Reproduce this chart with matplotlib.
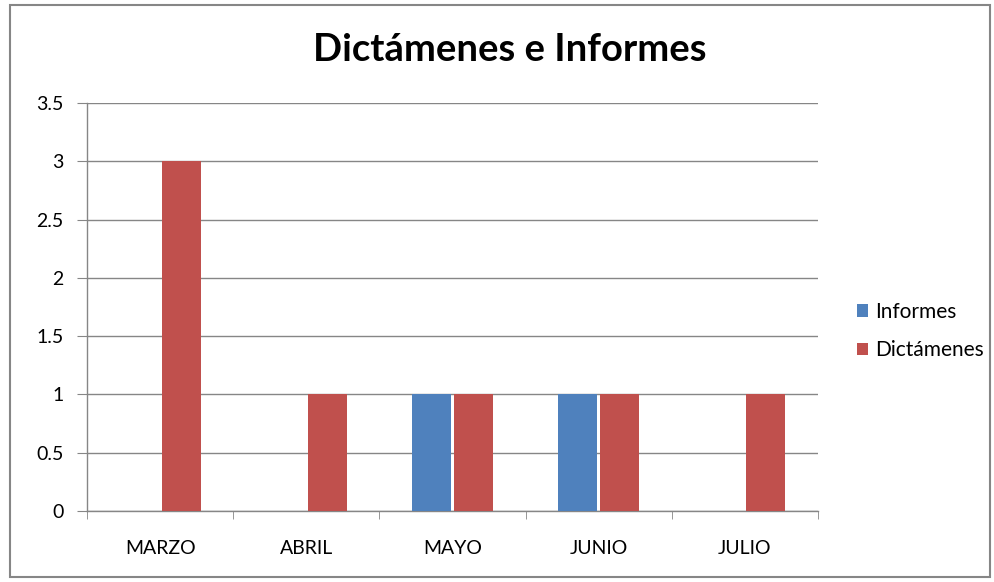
import matplotlib
matplotlib.use("Agg")
import matplotlib.pyplot as plt
import numpy as np
from matplotlib.patches import Rectangle

categories = ["MARZO", "ABRIL", "MAYO", "JUNIO", "JULIO"]
informes = [0, 0, 1, 1, 0]
dictamenes = [3, 1, 1, 1, 1]
series_names = ["Informes", "Dictámenes"]
colors = ["#4F81BD", "#C0504D"]
yticks = [0, 0.5, 1, 1.5, 2, 2.5, 3, 3.5]
ytick_labels = ["0", "0.5", "1", "1.5", "2", "2.5", "3", "3.5"]

plt.rcParams['font.family'] = ['Lato', 'DejaVu Sans']

fig = plt.figure(figsize=(9.94, 5.82), dpi=100)
ax = fig.add_axes([87/994, 71/582, (818-87)/994, (511-103)/582])

x = np.arange(len(categories))
w = 0.267
gap = 0.01
b1 = ax.bar(x - w/2 - gap, informes, width=w, color=colors[0], label=series_names[0], zorder=3)
b2 = ax.bar(x + w/2 + gap, dictamenes, width=w, color=colors[1], label=series_names[1], zorder=3)

ax.set_xlim(-0.5, len(categories) - 0.5)
ax.set_ylim(0, 3.5)
ax.set_yticks(yticks)
ax.set_yticklabels(ytick_labels, fontsize=14)
ax.set_xticks(x)
ax.set_xticklabels(categories, fontsize=14)
ax.set_xticks(np.arange(-0.5, len(categories)), minor=True)
ax.tick_params(axis='x', which='major', length=0, pad=21)
ax.tick_params(axis='x', which='minor', length=6, color="#868686", direction='out')
ax.tick_params(axis='y', length=7, color="#868686", direction='out', pad=10)

ax.yaxis.grid(True, color="#868686", linewidth=1.0, zorder=0)
for s in ["top", "right"]:
    ax.spines[s].set_visible(False)
for s in ["left", "bottom"]:
    ax.spines[s].set_color("#868686")
    ax.spines[s].set_linewidth(1.0)

fig.text(510/994, 1 - 50/582, "Dictámenes e Informes", ha='center', va='center',
         fontsize=27.5, fontweight='bold')

leg = fig.legend(handles=[b1, b2], labels=series_names, loc='center left',
                 bbox_to_anchor=(857/994, 1 - 331/582), frameon=False, fontsize=15,
                 handlelength=0.55, handleheight=0.55, handletextpad=0.3, labelspacing=0.9,
                 borderaxespad=0, borderpad=0)

fig.patches.append(Rectangle((10/994, 5/582), 980/994, 572/582, transform=fig.transFigure,
                             fill=False, edgecolor="#868686", linewidth=1.5))

fig.savefig("out.png", dpi=100)
